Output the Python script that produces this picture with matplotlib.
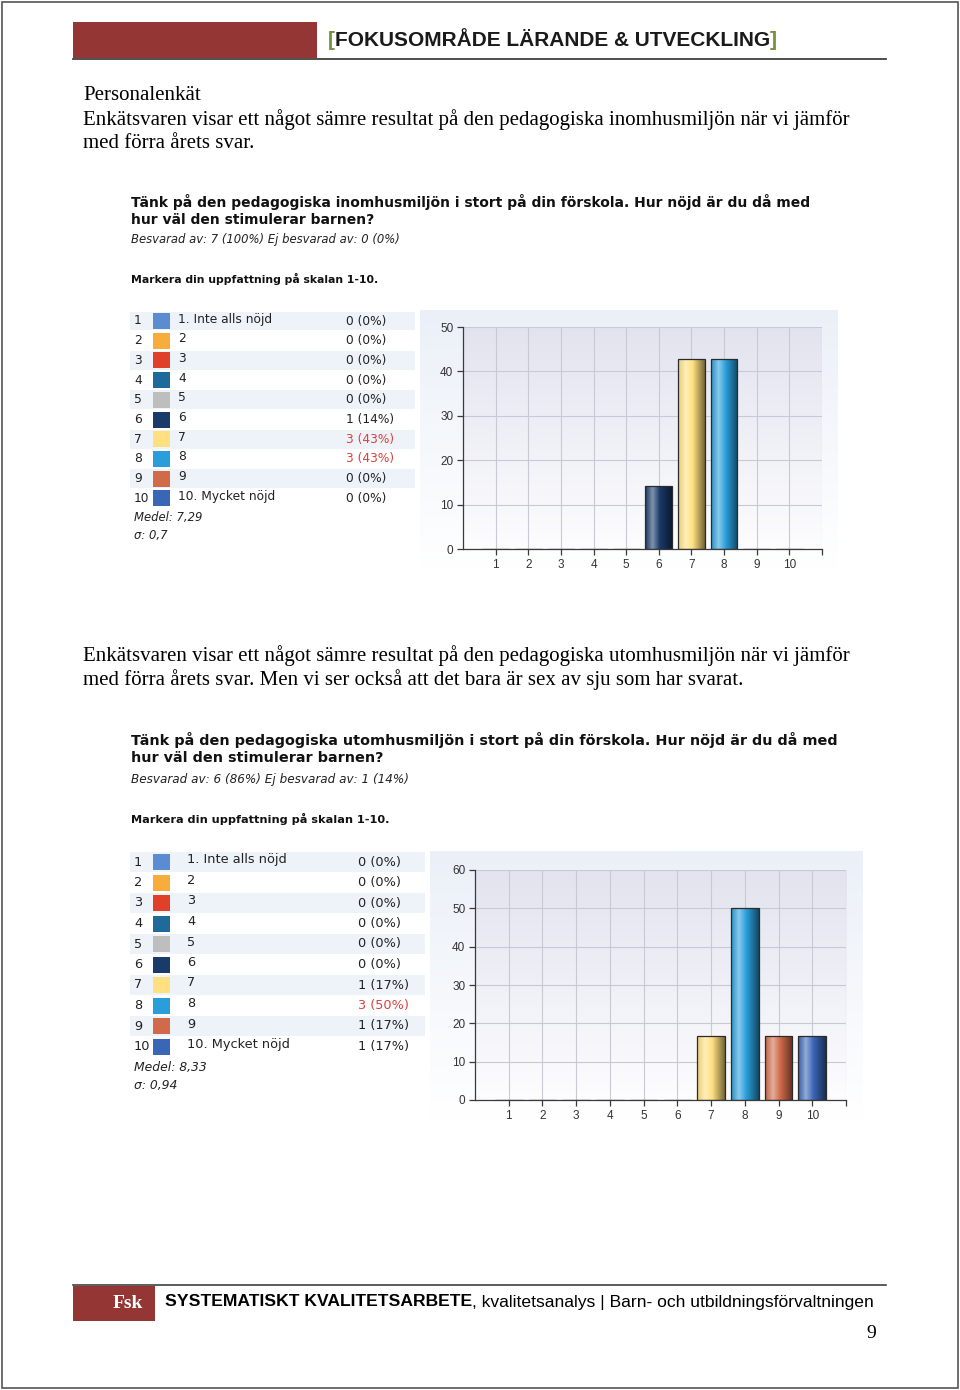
import numpy as np
import matplotlib
matplotlib.use('Agg')
import matplotlib.pyplot as plt
from matplotlib.patches import Rectangle
from matplotlib.colors import to_rgb, LinearSegmentedColormap
from matplotlib import font_manager

W, H = 960, 1390

# ─── DATA ─────────────────────────────────────────────────────────────────────
scale_labels = ["1. Inte alls nöjd", "2", "3", "4", "5", "6", "7", "8", "9", "10. Mycket nöjd"]
scale_ticks = ["1", "2", "3", "4", "5", "6", "7", "8", "9", "10"]
swatch_colors = ["#5B8BD0", "#F8AC3C", "#E0402A", "#1E6A9A", "#BEBEBE",
                 "#1A3A6A", "#FFE080", "#2A9EDB", "#D06A4A", "#3A66B8"]

inne_title = ["Tänk på den pedagogiska inomhusmiljön i stort på din förskola. Hur nöjd är du då med",
              "hur väl den stimulerar barnen?"]
inne_counts = [0, 0, 0, 0, 0, 1, 3, 3, 0, 0]
inne_answered, inne_missing = 7, 0
inne_mean, inne_sd = "7,29", "0,7"

ute_title = ["Tänk på den pedagogiska utomhusmiljön i stort på din förskola. Hur nöjd är du då med",
             "hur väl den stimulerar barnen?"]
ute_counts = [0, 0, 0, 0, 0, 0, 1, 3, 1, 1]
ute_answered, ute_missing = 6, 1
ute_mean, ute_sd = "8,33", "0,94"

intro_lines = ["Personalenkät",
               "Enkätsvaren visar ett något sämre resultat på den pedagogiska inomhusmiljön när vi jämför",
               "med förra årets svar."]
mid_lines = ["Enkätsvaren visar ett något sämre resultat på den pedagogiska utomhusmiljön när vi jämför",
             "med förra årets svar. Men vi ser också att det bara är sex av sju som har svarat."]

names = {f.name for f in font_manager.fontManager.ttflist}
NARROW = 'Liberation Sans Narrow' if 'Liberation Sans Narrow' in names else 'Liberation Sans'
SERIF = 'Liberation Serif'
SANS = 'Liberation Sans'
UI = 'DejaVu Sans'

fig = plt.figure(figsize=(W / 100, H / 100), dpi=100)
fig.patch.set_facecolor('white')
renderer = fig.canvas.get_renderer()


def txt(x, y, s, **kw):
    kw.setdefault('va', 'center')
    return fig.text(x / W, 1 - y / H, s, **kw)


def fit(t, width):
    w = t.get_window_extent(renderer).width
    t.set_fontsize(t.get_fontsize() * width / w)
    return t.get_fontsize()


def rect(x0, y0, x1, y1, **kw):
    r = Rectangle((x0 / W, 1 - y1 / H), (x1 - x0) / W, (y1 - y0) / H,
                  transform=fig.transFigure, **kw)
    fig.patches.append(r)
    return r


def chain(x, y, parts, size):
    cx = x
    out = []
    for s, kw in parts:
        t = txt(cx, y, s, fontsize=size, **kw)
        cx += t.get_window_extent(renderer).width
        out.append(t)
    return out, cx - x


def shade(c, f):
    c = np.array(to_rgb(c))
    return tuple(c + (1 - c) * f) if f > 0 else tuple(c * (1 + f))


# ─── PAGE FRAME, HEADER, FOOTER ───────────────────────────────────────────────
rect(2, 2, 958, 1388, fill=False, ec='#555555', lw=1.2)

rect(73, 22, 317, 58, fc='#943634', ec='none')
fig.add_artist(plt.Line2D([73 / W, 886 / W], [1 - 58.5 / H] * 2, color='#404040', lw=1.3))
hdr_parts = [("[", dict(color='#76923C', family=SANS, weight='bold')),
             ("FOKUSOMRÅDE LÄRANDE & UTVECKLING", dict(color='#1a1a1a', family=SANS, weight='bold')),
             ("]", dict(color='#76923C', family=SANS, weight='bold'))]
hs, hw = chain(328, 40, hdr_parts, 14)
for t in hs:
    t.remove()
chain(328, 40, hdr_parts, 14 * 452 / hw)

fig.add_artist(plt.Line2D([73 / W, 886 / W], [1 - 1284.5 / H] * 2, color='#404040', lw=1.2))
rect(73, 1286, 155, 1321, fc='#943634', ec='none')
txt(128, 1304, "Fsk", color='white', family=SERIF, weight='bold', fontsize=14, ha='center')
ft_parts = [("SYSTEMATISKT KVALITETSARBETE", dict(color='black', family=SANS, weight='bold')),
            (", kvalitetsanalys | Barn- och utbildningsförvaltningen", dict(color='black', family=SANS))]
fs, fw = chain(165, 1302, ft_parts, 11)
for t in fs:
    t.remove()
chain(165, 1302, ft_parts, 11 * 705 / fw)
txt(871, 1334, "9", family=SERIF, fontsize=14, ha='center')

# ─── BODY TEXT ────────────────────────────────────────────────────────────────
ref = txt(83, 120, intro_lines[1], family=SERIF, fontsize=14)
body_size = fit(ref, 768)
txt(83, 96, intro_lines[0], family=SERIF, fontsize=body_size)
txt(83, 144, intro_lines[2], family=SERIF, fontsize=body_size)
txt(83, 656, mid_lines[0], family=SERIF, fontsize=body_size)
txt(83, 680, mid_lines[1], family=SERIF, fontsize=body_size)


# ─── SURVEY BLOCK ─────────────────────────────────────────────────────────────
def survey(title, y_title, title_w, answered, missing, ans_w, mark_w, y_ans, y_mark):
    t = txt(131, y_title, title[0], family=UI, weight='bold', color='#111111', fontsize=10)
    s = fit(t, title_w)
    txt(131, y_title + 18, title[1], family=UI, weight='bold', color='#111111', fontsize=s)
    tot = answered + missing
    a = txt(131, y_ans, f"Besvarad av: {answered} ({round(100 * answered / tot)}%) "
            f"Ej besvarad av: {missing} ({round(100 * missing / tot)}%)",
            family=UI, style='italic', color='#222222', fontsize=8)
    fit(a, ans_w)
    m = txt(131, y_mark, "Markera din uppfattning på skalan 1-10.",
            family=UI, weight='bold', color='#111111', fontsize=8)
    fit(m, mark_w)


def table(counts, y0, dy, x_lab, x_cnt, x_right, size, mean, sd):
    n = sum(counts)
    top = max(counts)
    for i, (lab, c, col) in enumerate(zip(scale_labels, counts, swatch_colors)):
        y = y0 + i * dy
        if i % 2 == 0:
            rect(130, y - dy / 2 + 0.5, x_right, y + dy / 2 - 0.5, fc='#EEF2F9', ec='none')
        txt(134, y, str(i + 1), family=UI, fontsize=size, color='#222222')
        rect(153, y - 8, 170, y + 8, fc=col, ec='none')
        txt(x_lab, y - 2, lab, family=UI, fontsize=size, color='#222222')
        txt(x_cnt, y, f"{c} ({round(100 * c / n)}%)", family=UI, fontsize=size,
            color='#D9413A' if c == top else '#222222')
    y = y0 + 10 * dy
    txt(134, y, f"Medel: {mean}", family=UI, style='italic', fontsize=size - 0.4, color='#222222')
    txt(134, y + 18, f"σ: {sd}", family=UI, style='italic', fontsize=size - 0.4, color='#222222')


def vgrad(ax, extent, top, bottom, z):
    g = np.linspace(0, 1, 256)[:, None]
    cmap = LinearSegmentedColormap.from_list('g', [top, bottom])
    ax.imshow(g, extent=extent, cmap=cmap, aspect='auto', zorder=z, origin='upper')


def chart(counts, panel, box, ymax):
    px0, py0, px1, py1 = panel
    bg = fig.add_axes([px0 / W, 1 - py1 / H, (px1 - px0) / W, (py1 - py0) / H])
    vgrad(bg, [0, 1, 0, 1], '#EBF0F8', '#FFFFFF', 0)
    bg.set_xlim(0, 1)
    bg.set_ylim(0, 1)
    bg.axis('off')

    x0, y0, x1, y1 = box
    ax = fig.add_axes([x0 / W, 1 - y1 / H, (x1 - x0) / W, (y1 - y0) / H])
    ax.patch.set_visible(False)
    vgrad(ax, [0, 11, 0, ymax], '#E2E3EE', '#FDFDFF', 0)

    n = sum(counts)
    pct = [100 * c / n for c in counts]
    xs = np.arange(1, 11)
    bars = ax.bar(xs, pct, width=0.82, facecolor='none', edgecolor='#2b2b2b',
                  linewidth=0.9, zorder=3)
    for b, col, v in zip(bars, swatch_colors, pct):
        if v <= 0:
            continue
        cmap = LinearSegmentedColormap.from_list(
            'b', [(0, shade(col, -0.1)), (0.28, shade(col, 0.45)),
                  (0.55, shade(col, 0.0)), (1, shade(col, -0.55))])
        g = np.linspace(0, 1, 128)[None, :]
        im = ax.imshow(g, extent=[b.get_x(), b.get_x() + b.get_width(), 0, v],
                       cmap=cmap, aspect='auto', zorder=2)
        im.set_clip_path(b)

    ax.set_xlim(0, 11)
    ax.set_ylim(0, ymax)
    ax.set_xticks(list(xs) + [11])
    ax.set_xticklabels(scale_ticks + [""])
    ax.set_yticks(np.arange(0, ymax + 1, 10))
    ax.grid(True, color='#C9C9D3', linewidth=0.8, zorder=1)
    ax.set_axisbelow(True)
    for sp in ['top', 'right']:
        ax.spines[sp].set_visible(False)
    for sp in ['left', 'bottom']:
        ax.spines[sp].set_color('#3a3a3a')
        ax.spines[sp].set_linewidth(0.9)
    ax.tick_params(length=4, width=0.9, color='#3a3a3a', pad=3, labelsize=8.5,
                   labelcolor='#333333')
    for lab in ax.get_xticklabels() + ax.get_yticklabels():
        lab.set_family(NARROW)


survey(inne_title, 202, 679, inne_answered, inne_missing, 270, 248, 240, 279)
table(inne_counts, 321, 19.7, 178, 346, 415, 8.8, inne_mean, inne_sd)
chart(inne_counts, (420, 310, 838, 570), (463, 327, 822, 549), 50)

survey(ute_title, 740, 707, ute_answered, ute_missing, 279, 257, 780, 819)
table(ute_counts, 862, 20.5, 187, 358, 425, 9.3, ute_mean, ute_sd)
chart(ute_counts, (430, 851, 863, 1120), (475, 870, 846, 1100), 60)

fig.savefig("out.png", dpi=100, facecolor='white')
